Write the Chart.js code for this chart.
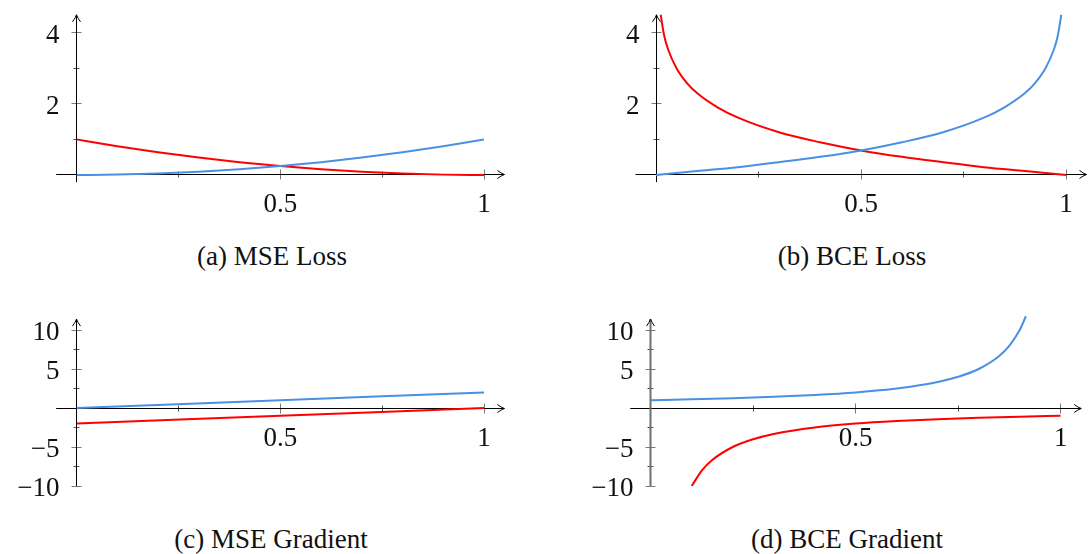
<!DOCTYPE html>
<html>
<head>
<meta charset="utf-8">
<script src="https://cdn.jsdelivr.net/npm/chart.js@4.4.1/dist/chart.umd.min.js"></script>
<style>
  html, body { margin: 0; padding: 0; background: #fff; }
  body { width: 1088px; height: 554px; position: relative; overflow: hidden; font-family: "Liberation Serif", serif; }
  .panel { position: absolute; }
  .caption { position: absolute; width: 400px; text-align: center; font-size: 27px; line-height: 30px; color: #111; }
</style>
</head>
<body>
<div class="panel" style="left:0;top:0;width:544px;height:230px"><canvas id="mseLoss"></canvas></div>
<div class="panel" style="left:544px;top:0;width:544px;height:230px"><canvas id="bceLoss"></canvas></div>
<div class="panel" style="left:0;top:290px;width:544px;height:220px"><canvas id="mseGrad"></canvas></div>
<div class="panel" style="left:544px;top:290px;width:544px;height:220px"><canvas id="bceGrad"></canvas></div>
<div class="caption" style="left:72px;top:241px">(a) MSE Loss</div>
<div class="caption" style="left:652px;top:241px">(b) BCE Loss</div>
<div class="caption" style="left:71px;top:524px">(c) MSE Gradient</div>
<div class="caption" style="left:647px;top:524px">(d) BCE Gradient</div>
<script>
// Couleurs des courbes
const blue = '#4a90e2';
const red = '#ff0000';

// (a) MSE Loss
const mseLossX = [0, 0.1, 0.2, 0.3, 0.4, 0.5, 0.6, 0.7, 0.8, 0.9, 1];
const mseLossBlue = [0, 0.01, 0.04, 0.09, 0.16, 0.25, 0.36, 0.49, 0.64, 0.81, 1];
const mseLossRed = [1, 0.81, 0.64, 0.49, 0.36, 0.25, 0.16, 0.09, 0.04, 0.01, 0];

// (b) BCE Loss
const bceLossBlueX = [0, 0.1, 0.2, 0.3, 0.4, 0.5, 0.6, 0.7, 0.8, 0.85, 0.9, 0.925, 0.95, 0.97, 0.98, 0.99];
const bceLossBlue = [0, 0.11, 0.22, 0.36, 0.51, 0.69, 0.92, 1.2, 1.61, 1.9, 2.3, 2.59, 3.0, 3.51, 3.91, 4.61];
const bceLossRedX = [0.01, 0.02, 0.03, 0.05, 0.075, 0.1, 0.15, 0.2, 0.3, 0.4, 0.5, 0.6, 0.7, 0.8, 0.9, 1];
const bceLossRed = [4.61, 3.91, 3.51, 3.0, 2.59, 2.3, 1.9, 1.61, 1.2, 0.92, 0.69, 0.51, 0.36, 0.22, 0.11, 0];

// (c) MSE Gradient
const mseGradX = [0, 0.5, 1];
const mseGradBlue = [0, 1, 2];
const mseGradRed = [-2, -1, 0];

// (d) BCE Gradient
const bceGradBlueX = [0, 0.1, 0.2, 0.3, 0.4, 0.5, 0.6, 0.7, 0.75, 0.8, 0.85, 0.875, 0.9, 0.915];
const bceGradBlue = [1, 1.11, 1.25, 1.43, 1.67, 2, 2.5, 3.33, 4, 5, 6.67, 8, 10, 11.76];
const bceGradRedX = [0.1, 0.125, 0.15, 0.2, 0.25, 0.3, 0.4, 0.5, 0.6, 0.7, 0.8, 0.9, 1];
const bceGradRed = [-10, -8, -6.67, -5, -4, -3.33, -2.5, -2, -1.67, -1.43, -1.25, -1.11, -1];

// Graduations
const xTicks = [0.5, 1];
const xMinorTicks = [0.25, 0.75];
const lossYTicks = [2, 4];
const lossYMinorTicks = [1, 3];
const gradYTicks = [-10, -5, 5, 10];
const gradYMinorTicks = [-7.5, -2.5, 2.5, 7.5];

const fmt = v => String(v).replace('-', '\u2212');
const snap = v => Math.round(v - 0.5) + 0.5;

// Axes au milieu avec flèches (style pgfplots)
const middleAxes = {
    id: 'middleAxes',
    beforeDatasetsDraw(chart, args, opts) {
        const ctx = chart.ctx;
        const px = v => chart.scales.x.getPixelForValue(v);
        const py = v => chart.scales.y.getPixelForValue(v);
        const x0 = snap(px(0));
        const y0 = snap(py(0));
        const seg = (a, b, c, d) => { ctx.beginPath(); ctx.moveTo(a, b); ctx.lineTo(c, d); ctx.stroke(); };

        ctx.save();
        ctx.lineWidth = 1;

        // ticks
        ctx.strokeStyle = '#7a7a7a';
        opts.xMajor.forEach(v => seg(snap(px(v)), y0 - 5, snap(px(v)), y0 + 5));
        opts.yMajor.forEach(v => seg(x0 - 5, snap(py(v)), x0 + 5, snap(py(v))));
        ctx.strokeStyle = '#555';
        opts.xMinor.forEach(v => seg(snap(px(v)), y0 - 3, snap(px(v)), y0 + 3));
        opts.yMinor.forEach(v => seg(x0 - 3, snap(py(v)), x0 + 3, snap(py(v))));

        // axe x
        ctx.strokeStyle = '#000';
        const xe = px(opts.xMax);
        seg(px(opts.xMin), y0, xe, y0);
        ctx.beginPath();
        ctx.moveTo(xe - 7, y0 - 4);
        ctx.quadraticCurveTo(xe - 3, y0 - 1, xe, y0);
        ctx.quadraticCurveTo(xe - 3, y0 + 1, xe - 7, y0 + 4);
        ctx.stroke();

        // axe y
        ctx.strokeStyle = opts.yAxisColor || '#000';
        ctx.lineWidth = opts.yAxisWidth || 1;
        const ye = py(opts.yMax);
        seg(x0, py(opts.yMin), x0, ye);
        ctx.lineWidth = 1;
        ctx.strokeStyle = '#000';
        ctx.beginPath();
        ctx.moveTo(x0 - 4, ye + 7);
        ctx.quadraticCurveTo(x0 - 1, ye + 3, x0, ye);
        ctx.quadraticCurveTo(x0 + 1, ye + 3, x0 + 4, ye + 7);
        ctx.stroke();

        // labels
        ctx.fillStyle = '#111';
        ctx.font = '27px "Liberation Serif", serif';
        ctx.textBaseline = 'alphabetic';
        ctx.textAlign = 'center';
        opts.xMajor.forEach(v => ctx.fillText(fmt(v), px(v), y0 + 37));
        ctx.textAlign = 'right';
        opts.yMajor.forEach(v => ctx.fillText(fmt(v), x0 - 17, py(v) + 10.3));

        ctx.restore();
    }
};

function series(xs, ys, color) {
    return {
        data: xs.map((x, i) => ({ x: x, y: ys[i] })),
        borderColor: color,
        borderWidth: 2,
        pointRadius: 0,
        fill: false,
        cubicInterpolationMode: 'monotone'
    };
}

function makeChart(id, datasets, yRange, padding, axes) {
    return new Chart(document.getElementById(id), {
        type: 'line',
        data: { datasets: datasets },
        options: {
            responsive: true,
            maintainAspectRatio: false,
            animation: false,
            layout: { padding: padding },
            scales: {
                x: { type: 'linear', min: 0, max: 1, display: false },
                y: { type: 'linear', min: yRange[0], max: yRange[1], display: false }
            },
            plugins: {
                legend: { display: false },
                tooltip: { enabled: false },
                middleAxes: axes
            }
        },
        plugins: [middleAxes]
    });
}

makeChart('mseLoss',
    [series(mseLossX, mseLossBlue, blue), series(mseLossX, mseLossRed, red)],
    [-0.2, 4.5],
    { left: 76.5, right: 60, top: 14.8, bottom: 47.9 },
    { xMin: -0.05, xMax: 1.05, yMin: -0.2, yMax: 4.5,
      xMajor: xTicks, xMinor: xMinorTicks, yMajor: lossYTicks, yMinor: lossYMinorTicks });

makeChart('bceLoss',
    [series(bceLossBlueX, bceLossBlue, blue), series(bceLossRedX, bceLossRed, red)],
    [-0.2, 4.5],
    { left: 112, right: 22, top: 14.8, bottom: 47.9 },
    { xMin: -0.05, xMax: 1.05, yMin: -0.2, yMax: 4.5,
      xMajor: xTicks, xMinor: xMinorTicks, yMajor: lossYTicks, yMinor: lossYMinorTicks });

makeChart('mseGrad',
    [series(mseGradX, mseGradBlue, blue), series(mseGradX, mseGradRed, red)],
    [-10, 12],
    { left: 76.5, right: 60, top: 24.4, bottom: 24 },
    { xMin: -0.05, xMax: 1.05, yMin: -10, yMax: 11.4,
      xMajor: xTicks, xMinor: xMinorTicks, yMajor: gradYTicks, yMinor: gradYMinorTicks });

makeChart('bceGrad',
    [series(bceGradBlueX, bceGradBlue, blue), series(bceGradRedX, bceGradRed, red)],
    [-10, 12],
    { left: 106.7, right: 27.3, top: 24.4, bottom: 24 },
    { xMin: -0.05, xMax: 1.05, yMin: -10, yMax: 11.4,
      xMajor: xTicks, xMinor: xMinorTicks, yMajor: gradYTicks, yMinor: gradYMinorTicks,
      yAxisColor: '#6e6e6e', yAxisWidth: 2 });
</script>
</body>
</html>
